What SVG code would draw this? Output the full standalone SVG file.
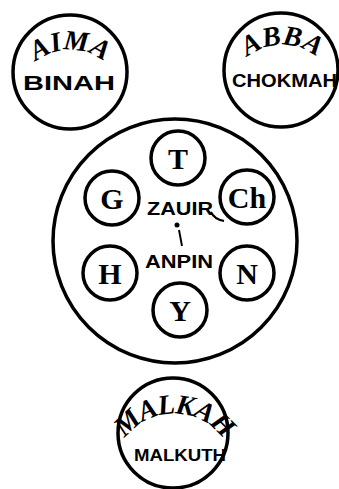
<svg xmlns="http://www.w3.org/2000/svg" width="339" height="489" viewBox="0 0 339 489">
<style>
.big{fill:none;stroke:#000;stroke-width:3.5}
.small{fill:#fff;stroke:#000;stroke-width:3.5}
.arch{font-family:"Liberation Serif","Times New Roman",serif;font-style:italic;font-weight:bold;font-size:28px;fill:#000}
.lab{font-family:"Liberation Sans",Arial,sans-serif;font-weight:bold;fill:#000}
.let{font-family:"Liberation Serif","Times New Roman",serif;font-weight:bold;font-size:30px;fill:#000;text-anchor:middle}
</style>
<defs>
<path id="arcAima" d="M 20,82 A 55,55 0 0 1 120,82"/>
<path id="arcAbba" d="M 232,77 A 55,55 0 0 1 332,77"/>
<path id="arcMalkah" d="M 118,452 A 60,60 0 0 1 230,452"/>
</defs>
<rect width="339" height="489" fill="#fff"/>
<g id="aima">
<circle class="big" cx="70" cy="72" r="57"/>
<text class="arch"><textPath href="#arcAima" startOffset="50%" text-anchor="middle">AIMA</textPath></text>
<text class="lab" x="23" y="90" font-size="20" textLength="92" lengthAdjust="spacingAndGlyphs">BINAH</text>
</g>
<g id="abba">
<circle class="big" cx="281" cy="70" r="57"/>
<text class="arch"><textPath href="#arcAbba" startOffset="50%" text-anchor="middle">ABBA</textPath></text>
<text class="lab" x="232" y="87" font-size="18" textLength="105" lengthAdjust="spacingAndGlyphs">CHOKMAH</text>
</g>
<g id="zauir-anpin">
<circle class="big" cx="175" cy="241" r="122"/>
<text class="lab" x="147" y="215" font-size="19" textLength="66" lengthAdjust="spacingAndGlyphs">ZAUIR</text>
<text class="lab" x="145" y="268" font-size="19" textLength="68" lengthAdjust="spacingAndGlyphs">ANPIN</text>
</g>
<g id="connectors" fill="none" stroke="#000" stroke-width="2">
<path d="M 211,212 Q 214,219 224,221"/>
<circle cx="177" cy="225" r="2.5" fill="#000" stroke="none"/>
<path d="M 179,230 L 182,246"/>
</g>
<g id="t"><circle class="small" cx="178" cy="158" r="27"/><text class="let" x="178" y="169">T</text></g>
<g id="g"><circle class="small" cx="112" cy="198" r="27"/><text class="let" x="112" y="209">G</text></g>
<g id="ch"><circle class="small" cx="247" cy="197" r="27"/><text class="let" x="247" y="208">Ch</text></g>
<g id="h"><circle class="small" cx="110" cy="273" r="27"/><text class="let" x="110" y="284">H</text></g>
<g id="n"><circle class="small" cx="247" cy="273" r="27"/><text class="let" x="247" y="284">N</text></g>
<g id="y"><circle class="small" cx="180" cy="310" r="27"/><text class="let" x="180" y="321">Y</text></g>
<g id="malkah">
<circle class="big" cx="173" cy="433" r="55"/>
<text class="arch" font-size="20" letter-spacing="-1"><textPath href="#arcMalkah" startOffset="50%" text-anchor="middle">MALKAH</textPath></text>
<text class="lab" x="134" y="461" font-size="16" textLength="92" lengthAdjust="spacingAndGlyphs">MALKUTH</text>
</g>
</svg>
